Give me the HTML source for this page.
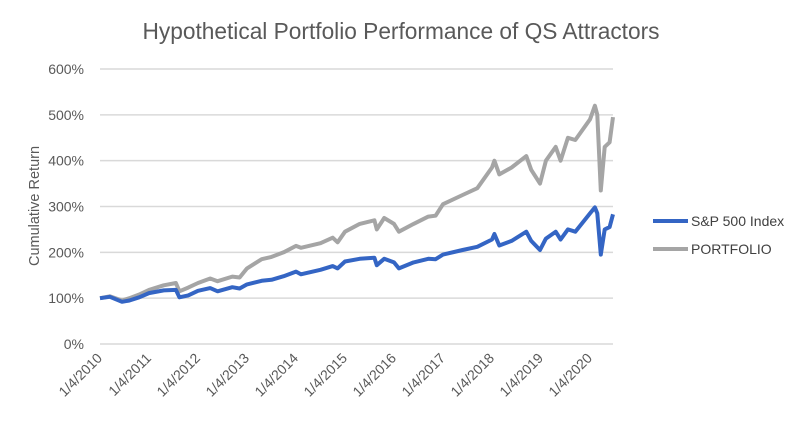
<!DOCTYPE html>
<html><head><meta charset="utf-8"><style>
body{margin:0;background:#fff;}
svg{display:block;font-family:"Liberation Sans",sans-serif;}
</style></head><body>
<svg id="chart" width="793" height="429" viewBox="0 0 793 429">
<text x="401" y="39" text-anchor="middle" font-size="22.7" fill="#595959">Hypothetical Portfolio Performance of QS Attractors</text>
<text transform="translate(39,206) rotate(-90)" text-anchor="middle" font-size="14.5" fill="#595959">Cumulative Return</text>
<g id="grid"></g><g id="ylabels"></g><g id="xlabels"></g><g id="series"></g>
<g>
<line x1="653" y1="221" x2="688" y2="221" stroke="#3465c4" stroke-width="4"/>
<text x="691" y="226" font-size="14" fill="#404040">S&amp;P 500 Index</text>
<line x1="653" y1="249" x2="688" y2="249" stroke="#a5a5a5" stroke-width="4"/>
<text x="691" y="254" font-size="14" fill="#404040">PORTFOLIO</text>
</g>
</svg>
<script>
const yTicks=[0,100,200,300,400,500,600];
const xTickLabels=["1/4/2010","1/4/2011","1/4/2012","1/4/2013","1/4/2014","1/4/2015","1/4/2016","1/4/2017","1/4/2018","1/4/2019","1/4/2020"];
const xTickYears=[2010,2011,2012,2013,2014,2015,2016,2017,2018,2019,2020];
const dates=[2010.0,2010.2,2010.45,2010.6,2010.8,2011.0,2011.3,2011.55,2011.62,2011.8,2012.0,2012.25,2012.4,2012.7,2012.85,2013.0,2013.3,2013.5,2013.75,2014.0,2014.1,2014.5,2014.75,2014.85,2015.0,2015.3,2015.6,2015.65,2015.8,2016.0,2016.1,2016.4,2016.7,2016.85,2017.0,2017.4,2017.7,2018.0,2018.05,2018.15,2018.4,2018.7,2018.8,2018.98,2019.1,2019.3,2019.4,2019.55,2019.7,2020.0,2020.1,2020.15,2020.22,2020.3,2020.4,2020.47];
const sp500=[100,103,92,95,102,111,117,118,102,106,116,122,115,124,121,130,138,140,148,158,152,162,170,165,180,186,188,172,186,178,165,178,186,185,195,205,212,228,240,215,225,245,225,205,230,245,228,250,245,285,298,285,195,250,255,283];
const portfolio=[100,104,95,100,108,118,128,133,115,123,133,143,137,147,145,165,185,190,200,214,210,220,232,222,245,262,270,250,275,262,245,262,278,280,305,325,340,385,400,370,385,410,380,350,400,430,400,450,445,490,520,500,335,430,440,495];
const NS="http://www.w3.org/2000/svg";
const X0=100,X1=613,Y0=344,Y1=69,D0=2010,D1=2020.47;
const xs=d=>X0+(d-D0)/(D1-D0)*(X1-X0);
const ys=v=>Y0-v/600*(Y0-Y1);
function mk(t,a,p){const e=document.createElementNS(NS,t);for(const k in a)e.setAttribute(k,a[k]);p.appendChild(e);return e;}
const grid=document.getElementById('grid'),yl=document.getElementById('ylabels'),xl=document.getElementById('xlabels'),ser=document.getElementById('series');
yTicks.forEach(v=>{
 const l=mk('line',{x1:X0,x2:X1,y1:ys(v),y2:ys(v),stroke:'#d9d9d9','stroke-width':1.5},grid);
 
 
 const t=mk('text',{x:84,y:ys(v)+5,'text-anchor':'end','font-size':14,fill:'#595959'},yl);
 t.textContent=v+'%';
 
 
});
xTickLabels.forEach((s,i)=>{
 const x=xs(xTickYears[i]);
 const t=mk('text',{transform:`translate(${x+3},${359}) rotate(-45)`,'text-anchor':'end','font-size':14,fill:'#595959'},xl);
 t.textContent=s;
 
 
});
function line(vals,color,name){
 const p=mk('polyline',{points:dates.map((d,i)=>xs(d).toFixed(1)+','+ys(vals[i]).toFixed(1)).join(' '),fill:'none',stroke:color,'stroke-width':4,'stroke-linejoin':'round'},ser);
 
 
}
line(portfolio,'#a5a5a5','portfolio-line');
line(sp500,'#3465c4','sp500-line');
</script>
</body></html>
